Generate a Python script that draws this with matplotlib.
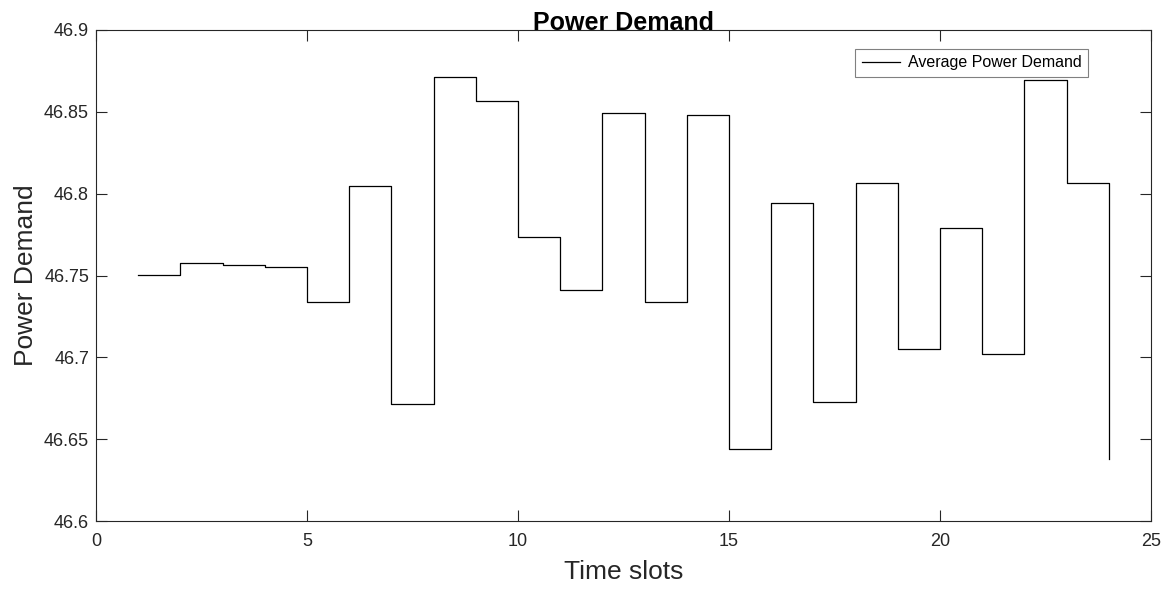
import matplotlib.pyplot as plt

plt.rcParams['font.family'] = ['Liberation Sans', 'DejaVu Sans']

# time slots and average power demand per slot
slots = list(range(1, 25))
demand = [46.7506, 46.7579, 46.7567, 46.7549, 46.7337, 46.8048, 46.6715, 46.8710,
          46.8566, 46.7734, 46.7414, 46.8494, 46.7337, 46.8482, 46.6438, 46.7944,
          46.6728, 46.8065, 46.7050, 46.7793, 46.7023, 46.8694, 46.8068, 46.6377]

x_ticks = [0, 5, 10, 15, 20, 25]
y_ticks = [46.6, 46.65, 46.7, 46.75, 46.8, 46.85, 46.9]

fig = plt.figure(figsize=(11.71, 5.90), dpi=100)
ax = fig.add_axes([96 / 1171, 69 / 590, 1055 / 1171, 491 / 590])

ax.step(slots, demand, where='post', color='black', linewidth=0.9,
        label='Average Power Demand')

ax.set_xlim(0, 25)
ax.set_ylim(46.6, 46.9)
ax.set_xticks(x_ticks)
ax.set_yticks(y_ticks)
ax.set_yticklabels(['46.6', '46.65', '46.7', '46.75', '46.8', '46.85', '46.9'])

dark = '#262626'
for s in ax.spines.values():
    s.set_color(dark)
    s.set_linewidth(0.8)
ax.tick_params(direction='in', length=8, width=0.8, colors=dark,
               labelsize=13, top=True, right=True, pad=5)
ax.tick_params(axis='x', pad=9)

ax.set_title('Power Demand', fontsize=18, fontweight='bold', pad=0)
ax.set_xlabel('Time slots', fontsize=19, color=dark, labelpad=7)
ax.set_ylabel('Power Demand', fontsize=19, color=dark, labelpad=4)

leg = ax.legend(loc='upper right', bbox_to_anchor=(0.9403, 0.9613),
                borderaxespad=0, fontsize=11.5, fancybox=False,
                edgecolor='#808080', framealpha=1, handlelength=2.4,
                handletextpad=0.5, borderpad=0.4)
leg.get_frame().set_linewidth(0.8)

fig.savefig('out.png', dpi=100)
